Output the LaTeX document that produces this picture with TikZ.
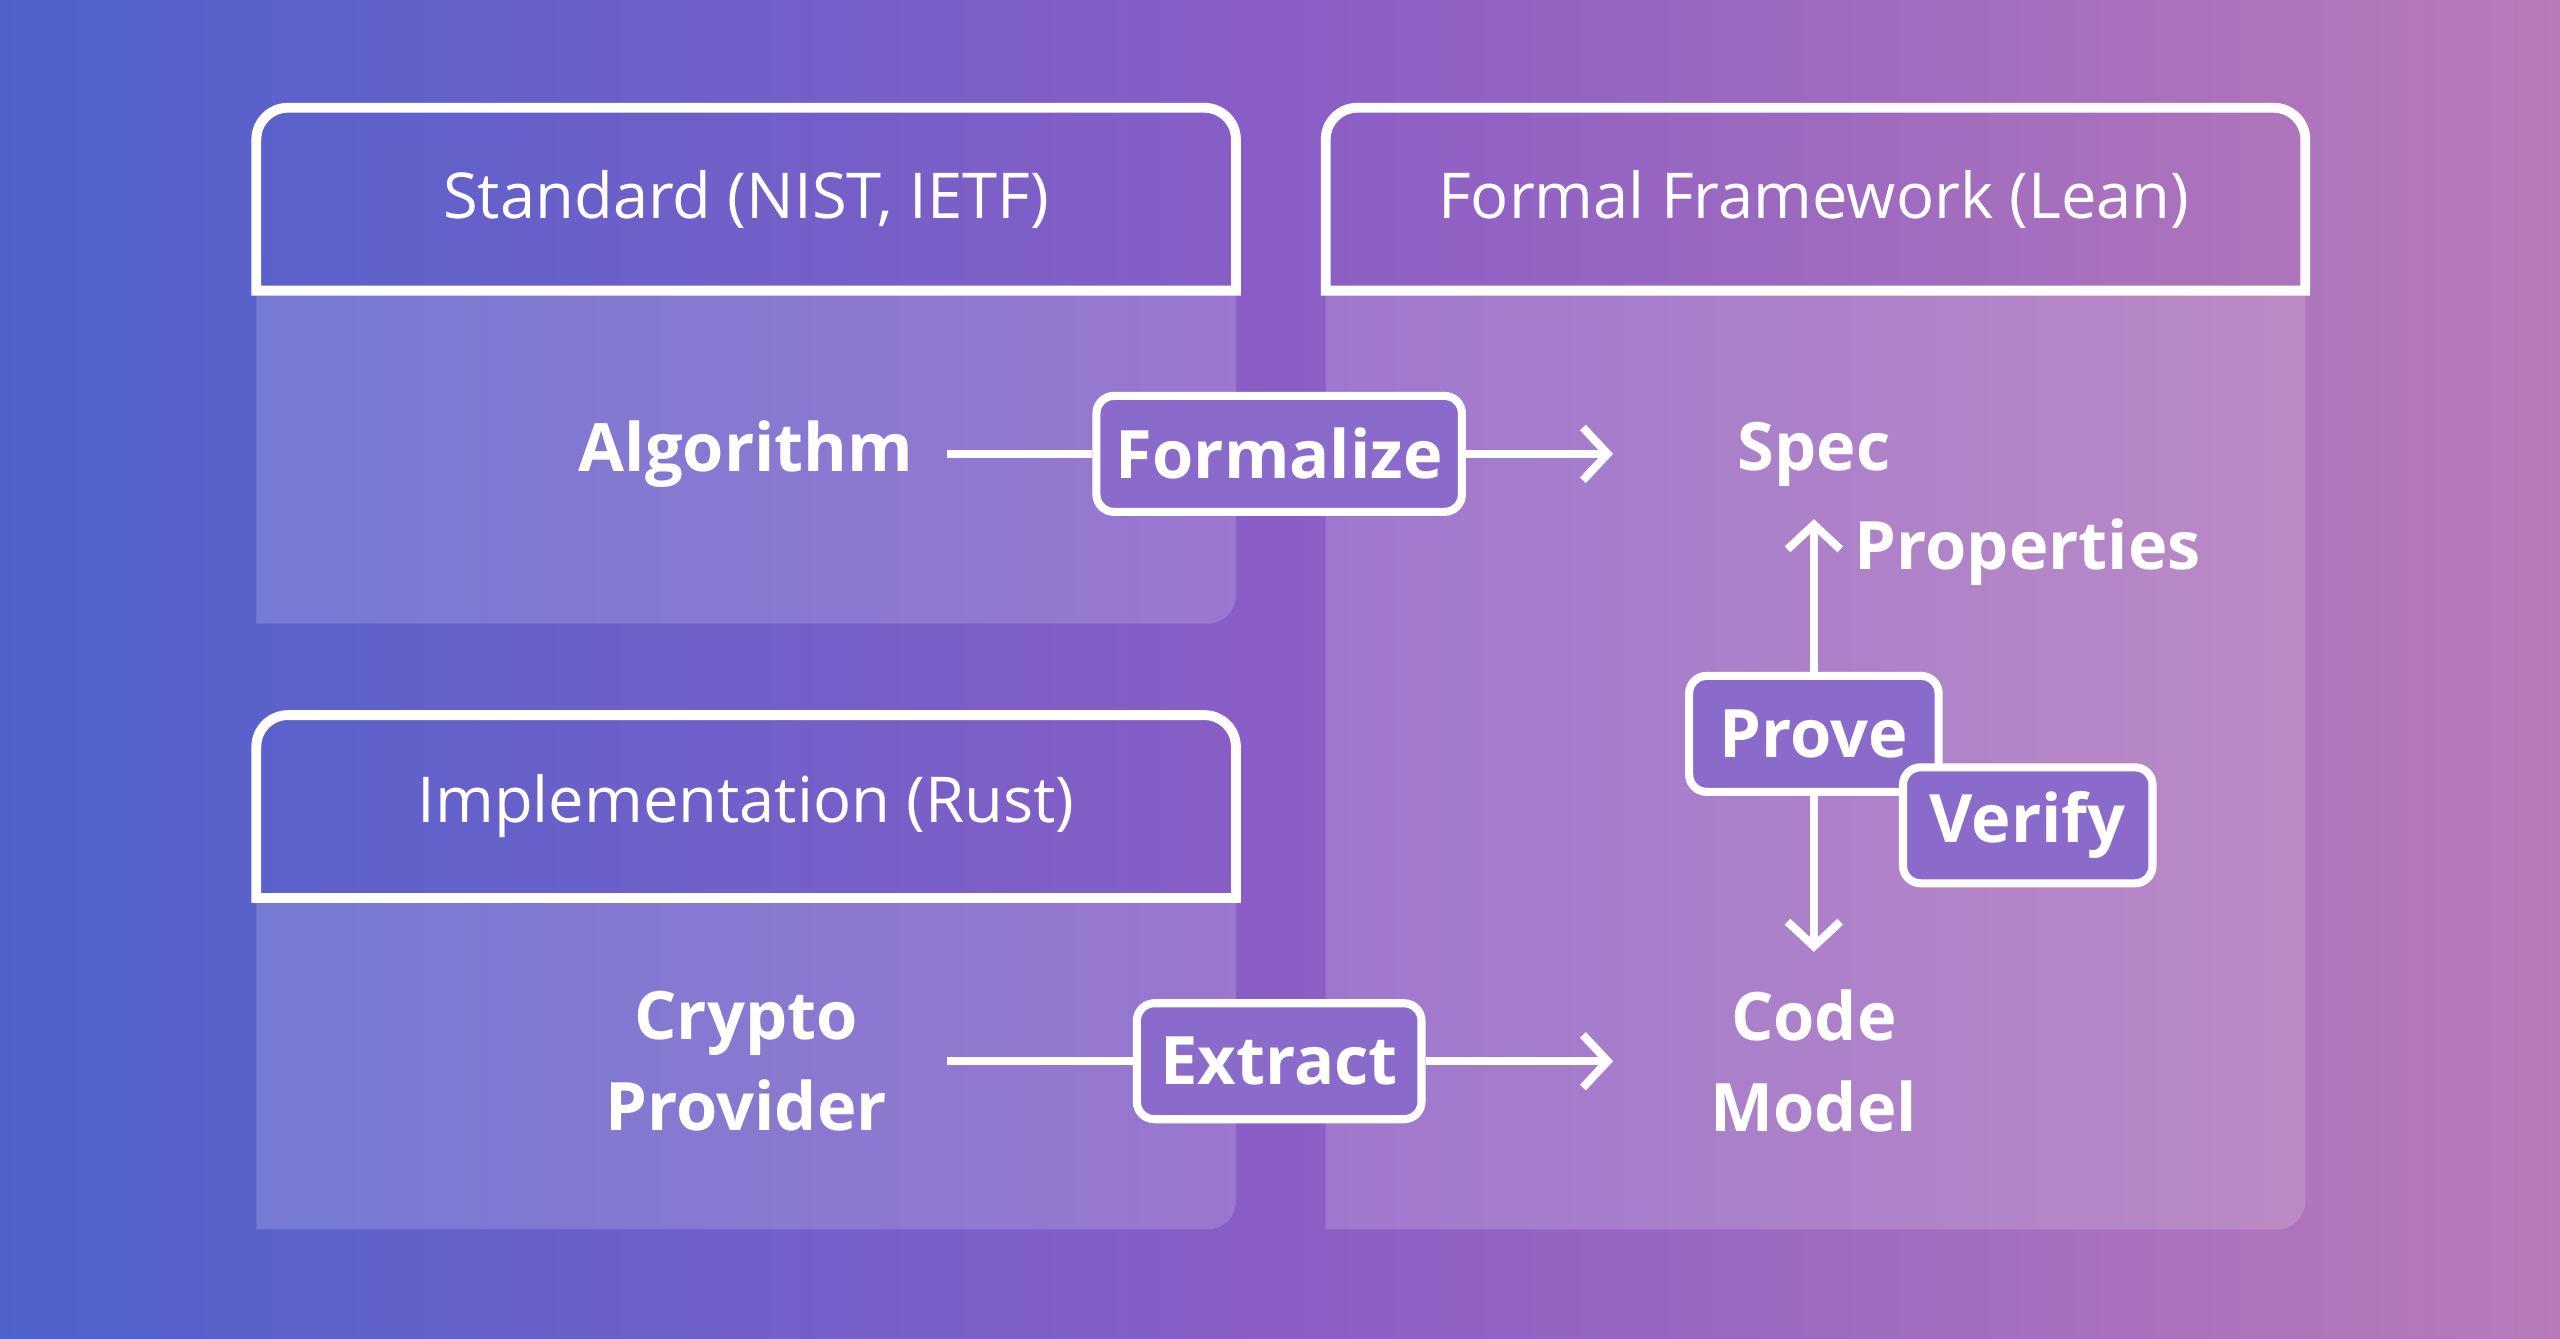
\documentclass[tikz,border=0pt]{standalone}
\usepackage{fontspec}
\setmainfont{Open Sans}
\usetikzlibrary{positioning, calc, arrows.meta}
\definecolor{bgblue}{HTML}{4F62CC}
\definecolor{bgpurple}{HTML}{8A5EC6}
\definecolor{bgpink}{HTML}{B87AB8}
\definecolor{tagfill}{HTML}{8A6ACB}
\begin{document}
\begin{tikzpicture}[
    x = 0.01633cm, y = -0.01633cm,
    line width = 2.3pt, white,
    header/.style = {font = \fontsize{18}{22}\selectfont, text = white},
    label/.style = {font = \bfseries\fontsize{19}{26}\selectfont, text = white,
      align = center},
    tag/.style = {draw, fill = tagfill, rounded corners = 5pt,
      font = \bfseries\fontsize{19}{24}\selectfont, text = white,
      inner sep = 0pt, minimum height = 33pt},
    body/.style = {fill = white, fill opacity = 0.16, draw = none},
    flow/.style = {-{Straight Barb[length=7pt, width=15pt]}}
    ]
    % background
    \shade [left color = bgblue, right color = bgpink, middle color = bgpurple]
    (0, 0) rectangle (1568, 820);
    \useasboundingbox (0, 0) rectangle (1568, 820);

    % panel bodies
    \path [body] (157, 178) -- (157, 382) [rounded corners = 8pt] -- (757, 382)
    [sharp corners] -- (757, 178) -- cycle;
    \path [body] (812, 178) -- (812, 753) [rounded corners = 8pt] -- (1412, 753)
    [sharp corners] -- (1412, 178) -- cycle;
    \path [body] (157, 550) -- (157, 753) [rounded corners = 8pt] -- (757, 753)
    [sharp corners] -- (757, 550) -- cycle;

    % panel headers
    \draw [line width = 2.8pt] (157, 178) [rounded corners = 9pt] -- (157, 66)
    -- (757, 66) [sharp corners] -- (757, 178) -- cycle;
    \draw [line width = 2.8pt] (812, 178) [rounded corners = 9pt] -- (812, 66)
    -- (1412, 66) [sharp corners] -- (1412, 178) -- cycle;
    \draw [line width = 2.8pt] (157, 550) [rounded corners = 9pt] -- (157, 438)
    -- (757, 438) [sharp corners] -- (757, 550) -- cycle;
    \node at (457, 122) [header, name = std] {Standard (NIST, IETF)};
    \node at (1111, 122) [header, name = lean] {Formal Framework (Lean)};
    \node at (457, 494) [header, name = rust] {Implementation (Rust)};

    % contents
    \node at (457, 278) [label, name = alg] {Algorithm};
    \node at (1111, 278) [label, name = spec] {Spec};
    \node at (1242, 338) [label, name = props] {Properties};
    \node at (457, 650) [label, name = crypto] {Crypto\\Provider};
    \node at (1111, 650) [label, name = code] {Code\\Model};

    \coordinate (algR) at (580, 278);
    \coordinate (specL) at (988, 278);
    \coordinate (cryptoR) at (580, 650);
    \coordinate (codeL) at (988, 650);
    \coordinate (propsB) at (1111, 318);
    \coordinate (codeT) at (1111, 583);

    \node at (783.5, 278) [tag, minimum width = 104pt, name = formalize] {Formalize};
    \node at (783.5, 650) [tag, minimum width = 81pt, name = extract] {Extract};
    \node at (1111, 449.5) [tag, minimum width = 71pt, name = prove] {Prove};

    \draw (algR) -- (formalize);
    \draw [flow] (formalize) -- (specL);
    \draw (cryptoR) -- (extract);
    \draw [flow] (extract) -- (codeL);
    \draw [flow] (prove) -- (propsB);
    \draw [flow] (prove) -- (codeT);

    \node at (1242, 505.5) [tag, minimum width = 71pt, name = verify] {Verify};
  \end{tikzpicture}
\end{document}
